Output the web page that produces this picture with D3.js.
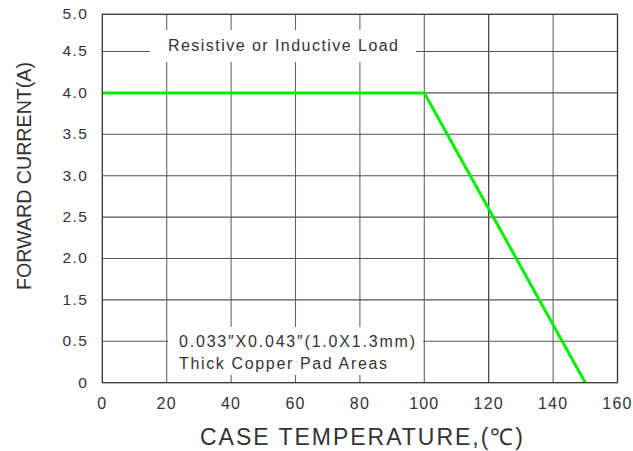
<!DOCTYPE html>
<html>
<head>
<meta charset="utf-8">
<script src="https://cdn.jsdelivr.net/npm/d3@7"></script>
<style>
  body { margin: 0; background: #fff; }
  text { font-family: Arial, "Liberation Sans", sans-serif; fill: #333; }
</style>
</head>
<body>
<svg id="chart" width="633" height="451"></svg>
<script>
// data
var temps = [0, 100, 150];
var current = [4.0, 4.0, 0];
var xTicks = [0, 20, 40, 60, 80, 100, 120, 140, 160];
// the original axis skips the 1.0 label, labels are evenly spaced
var yTicks = [0, 0.5, 1.5, 2.0, 2.5, 3.0, 3.5, 4.0, 4.5, 5.0];
var noteTop = "Resistive or Inductive Load";
var noteBottom = ["0.033\u2033X0.043\u2033(1.0X1.3mm)", "Thick Copper Pad Areas"];

var margin = {left: 102.3, top: 14.3, right: 15.5, bottom: 68.3};
var W = 633 - margin.left - margin.right,
    H = 451 - margin.top - margin.bottom;
var step = 41.4;

var svg = d3.select("#chart");
var g = svg.append("g").attr("transform", "translate(" + margin.left + "," + margin.top + ")");

var x = d3.scaleLinear().domain([0, 160]).range([0, W]);
var y = d3.scaleLinear()
    .domain(yTicks)
    .range(yTicks.map(function(d, i){ return Math.max(0, H - i * step); }));

// grid
g.selectAll(".vgrid").data(xTicks.slice(1, -1)).enter().append("line")
    .attr("x1", function(d){ return x(d); }).attr("x2", function(d){ return x(d); })
    .attr("y1", 0).attr("y2", H)
    .attr("stroke", function(d){ return d == 120 ? "#2a2a2a" : "#666"; })
    .attr("stroke-width", 1.1);
g.selectAll(".hgrid").data(yTicks.slice(1, -1)).enter().append("line")
    .attr("x1", 0).attr("x2", W)
    .attr("y1", function(d){ return y(d); }).attr("y2", function(d){ return y(d); })
    .attr("stroke", "#555")
    .attr("stroke-width", 1.1);

// note boxes (white, hide the grid behind)
svg.append("rect").attr("x", 150).attr("y", 30).attr("width", 266).attr("height", 32).attr("fill", "#fff");
svg.append("text").attr("x", 168).attr("y", 51)
    .attr("textLength", 230).attr("lengthAdjust", "spacing")
    .style("font-size", "16px").text(noteTop);

svg.append("rect").attr("x", 168).attr("y", 327).attr("width", 255).attr("height", 48).attr("fill", "#fff");
svg.selectAll(".nb").data(noteBottom).enter().append("text")
    .attr("x", 179).attr("y", function(d, i){ return 347 + i * 21.5; })
    .attr("textLength", function(d, i){ return i == 0 ? 236 : 208; }).attr("lengthAdjust", "spacing")
    .style("font-size", "16px").text(function(d){ return d; });

// derating curve
var line = d3.line()
    .x(function(d){ return x(d[0]); })
    .y(function(d){ return y(d[1]); });
g.append("path")
    .datum(d3.zip(temps, current))
    .attr("d", line)
    .attr("fill", "none")
    .attr("stroke", "#00f000")
    .attr("stroke-width", 3);

// frame
g.append("rect").attr("width", W).attr("height", H)
    .attr("fill", "none").attr("stroke", "#333").attr("stroke-width", 1.3);

// tick labels
g.selectAll(".xl").data(xTicks).enter().append("text")
    .attr("x", function(d){ return x(d); }).attr("y", H + 26)
    .attr("text-anchor", "middle")
    .style("font-size", "16px").style("letter-spacing", "1.2px")
    .text(function(d){ return d; });
g.selectAll(".yl").data(yTicks).enter().append("text")
    .attr("x", -14).attr("y", function(d){ return y(d) + 5; })
    .attr("text-anchor", "end")
    .style("font-size", "15.5px").style("letter-spacing", "1.4px")
    .text(function(d){ return d == 0 ? "0" : d.toFixed(1); });

// axis titles
svg.append("text").attr("x", 200).attr("y", 445)
    .attr("textLength", 323).attr("lengthAdjust", "spacing")
    .style("font-size", "23px")
    .text("CASE TEMPERATURE,(\u2103)");
svg.append("text").attr("transform", "translate(31,290) rotate(-90)")
    .attr("textLength", 228).attr("lengthAdjust", "spacingAndGlyphs")
    .style("font-size", "21px")
    .text("FORWARD CURRENT(A)");
</script>
</body>
</html>
